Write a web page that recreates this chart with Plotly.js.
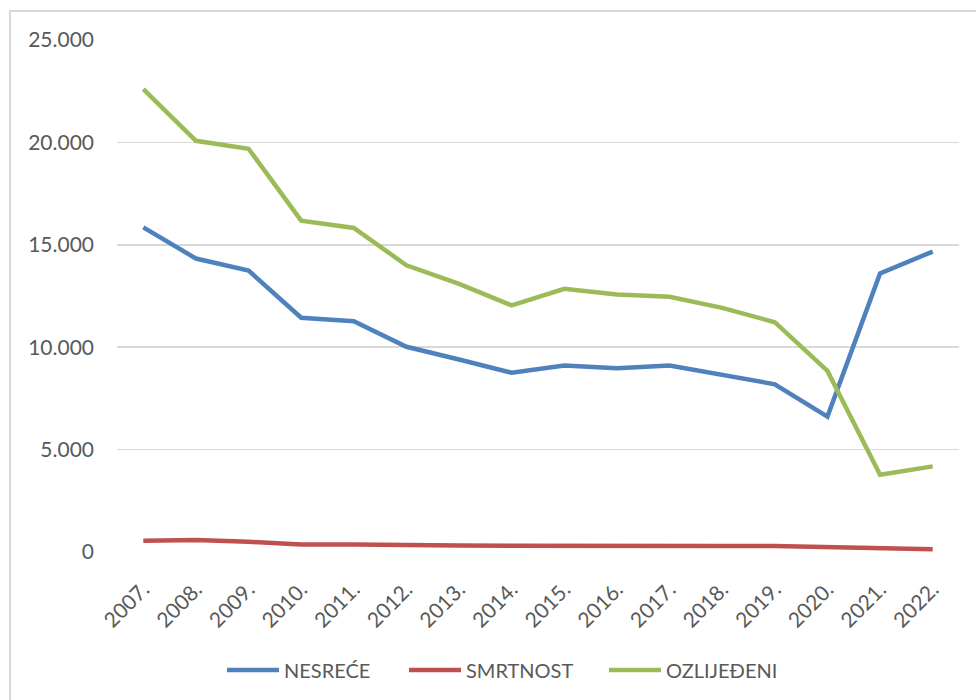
<!DOCTYPE html>
<html>
<head>
<meta charset="utf-8">
<script src="https://cdn.plot.ly/plotly-3.0.1.min.js"></script>
<style>
html,body{margin:0;padding:0;background:#fff;}
#wrap{position:relative;width:976px;height:700px;overflow:hidden;}
#frame{position:absolute;left:9px;top:10px;width:980px;height:700px;border-left:2px solid #D9D9D9;border-top:2px solid #D9D9D9;pointer-events:none;z-index:5;}
#chart{position:absolute;left:0;top:0;width:976px;height:700px;}
</style>
</head>
<body>
<div id="wrap"><div id="chart"></div><div id="frame"></div></div>
<script>
const years = ["2007.","2008.","2009.","2010.","2011.","2012.","2013.","2014.","2015.","2016.","2017.","2018.","2019.","2020.","2021.","2022."];
const nesrece = [15850,14330,13740,11440,11270,10020,9400,8750,9110,8970,9110,8670,8190,6610,13600,14670];
const smrtnost = [550,585,500,370,370,370,320,300,310,290,290,290,290,230,150,140];
const ozlijedeni = [22600,20080,19690,16180,15820,14000,13090,12040,12850,12570,12460,11920,11220,8840,3770,4180];
const names = ["NESREĆE","SMRTNOST","OZLIJEĐENI"];
const colors = ["#4F81BD","#C0504D","#9BBB59"];
const series = [nesrece, smrtnost, ozlijedeni];
const legendIds = ["legend","legend2","legend3"];

const traces = series.map((s,i)=>({
  x: years, y: s, name: names[i], type: "scatter", mode: "lines",
  legend: legendIds[i],
  line: {color: colors[i], width: 4.5}
}));

const L = 117, R = 17, T = 40, B = 147;
const W = 976, H = 700;
const pw = W - L - R, ph = H - T - B;
const legStarts = [230, 412, 612];
const legY = 670;
function legendCfg(px){
  return {orientation: "h", x: (px - 8 - L)/pw, xanchor: "left", y: (H - B - legY)/ph, yanchor: "middle",
          font: {size: 20, color: "#595959"}, itemwidth: 52, bgcolor: "rgba(0,0,0,0)", borderwidth: 0};
}

const layout = {
  width: W, height: H,
  margin: {l: L, r: R, t: T, b: B},
  paper_bgcolor: "#fff", plot_bgcolor: "#fff",
  separators: ",.",
  font: {family: "Lato, 'Open Sans', sans-serif", size: 20, color: "#595959"},
  showlegend: true,
  legend: legendCfg(legStarts[0]),
  legend2: legendCfg(legStarts[1]),
  legend3: legendCfg(legStarts[2]),
  xaxis: {type: "category", range: [-0.5, 15.5], tickangle: -45, showgrid: false, zeroline: false, showline: false,
          ticks: "", ticklabelstandoff: 20, tickfont: {size: 21, color: "#595959"}, fixedrange: true},
  yaxis: {range: [0, 25000], dtick: 5000, tickformat: ",d", showgrid: true, gridcolor: "#D9D9D9",
          gridwidth: 1.5, zeroline: false, showline: false, ticks: "", ticklabelstandoff: 22,
          tickfont: {size: 21, color: "#595959"}, fixedrange: true}
};

Plotly.newPlot("chart", traces, layout, {displayModeBar: false, staticPlot: true});
</script>
</body>
</html>
